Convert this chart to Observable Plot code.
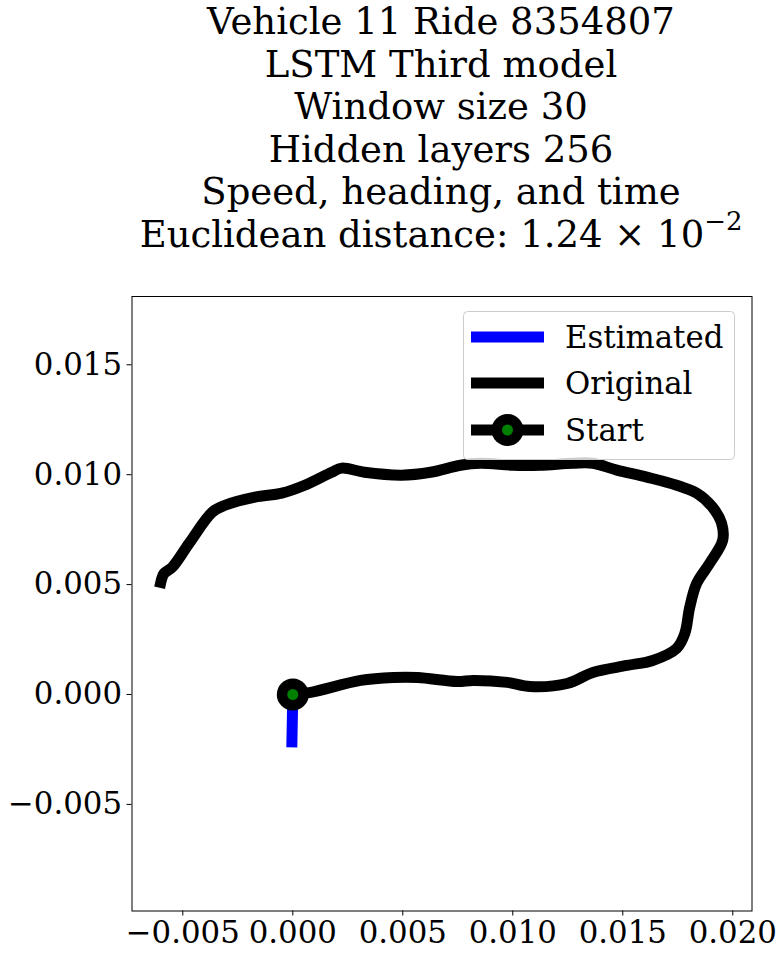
<!DOCTYPE html>
<html><head><meta charset="utf-8">
<script src="https://cdn.jsdelivr.net/npm/d3@7"></script>
<script src="https://cdn.jsdelivr.net/npm/@observablehq/plot@0.6"></script>
<style>
body{margin:0;background:#fff;font-family:"DejaVu Serif",serif;}
#wrap{position:relative;width:784px;height:958px;overflow:hidden;}
#title{position:absolute;left:441px;top:1px;transform:translateX(-50%);text-align:center;white-space:nowrap;font-size:37px;line-height:42.6px;color:#000;}
#title sup{font-size:70%;position:relative;top:-0.15em;line-height:0;}
#chart{position:absolute;left:0;top:270px;}
#legend{position:absolute;left:463px;top:311px;}
</style></head><body>
<div id="wrap"><div id="title"></div><div id="chart"></div><div id="legend"></div></div>
<script>
// ---- data ----
const titleLines = ["Vehicle 11 Ride 8354807", "LSTM Third model", "Window size 30", "Hidden layers 256", "Speed, heading, and time"];
const distLabel = "Euclidean distance: ";
const distMantissa = "1.24";
const distExponent = "−2";

const origX = [0, 0.00082, 0.00308, 0.00458, 0.00567, 0.00748, 0.00820, 0.00975, 0.01079, 0.01247,
  0.01364, 0.01519, 0.01636, 0.01745, 0.01782, 0.01804, 0.01836, 0.01895, 0.01954, 0.01949,
  0.01908, 0.01836, 0.01745, 0.01609, 0.01473, 0.01364, 0.01274, 0.01124, 0.01002, 0.00852,
  0.00762, 0.00626, 0.00494, 0.00326, 0.00222, 0.00177, 0.00054, -0.00050, -0.00172, -0.00308,
  -0.00367, -0.00471, -0.00548, -0.00585, -0.00600];
const origY = [0, 0.00010, 0.00064, 0.00077, 0.00077, 0.00059, 0.00064, 0.00055, 0.00036, 0.00050,
  0.00100, 0.00132, 0.00155, 0.00210, 0.00278, 0.00396, 0.00506, 0.00597, 0.00702, 0.00779,
  0.00852, 0.00916, 0.00952, 0.00989, 0.01021, 0.01052, 0.01052, 0.01043, 0.01043, 0.01052,
  0.01043, 0.01011, 0.00998, 0.01011, 0.01030, 0.01011, 0.00952, 0.00916, 0.00898, 0.00861,
  0.00829, 0.00688, 0.00579, 0.00551, 0.00510];
const estX = [0, -0.00004];
const estY = [0, -0.00216];
const startX = [0];
const startY = [0];

const xTicks = [-0.005, 0, 0.005, 0.010, 0.015, 0.020];
const yTicks = [-0.005, 0, 0.005, 0.010, 0.015];
const legendLabels = ["Estimated", "Original", "Start"];
const colors = {estimated: "blue", original: "black", start: "green"};

// ---- title ----
const t = document.getElementById("title");
t.innerHTML = titleLines.map(s => `<div>${s}</div>`).join("") +
  `<div>${distLabel}${distMantissa} × 10<sup>${distExponent}</sup></div>`;

// ---- chart ----
const fmt = d3.format(".3f");
const orig = origX.map((x, i) => ({x, y: origY[i]}));
const est = estX.map((x, i) => ({x, y: estY[i]}));
const start = startX.map((x, i) => ({x, y: startY[i]}));

const chart = Plot.plot({
  width: 784, height: 688,
  marginTop: 26, marginLeft: 131.5, marginRight: 32.5, marginBottom: 47.5,
  style: {fontFamily: "DejaVu Serif", background: "white", color: "black"},
  x: {domain: [-0.007309, 0.020873], axis: null},
  y: {domain: [-0.00985, 0.018107], axis: null},
  marks: [
    Plot.frame({stroke: "black", strokeWidth: 1}),
    Plot.axisX({ticks: xTicks, tickFormat: fmt, tickSize: 5, tickPadding: 5, fontSize: 30.8, label: null, stroke: "black"}),
    Plot.axisY({ticks: yTicks, tickFormat: fmt, tickSize: 5, tickPadding: 5, fontSize: 30.8, label: null, stroke: "black"}),
    Plot.line(est, {x: "x", y: "y", stroke: colors.estimated, strokeWidth: 11, strokeLinecap: "square", strokeLinejoin: "round"}),
    Plot.line(orig, {x: "x", y: "y", curve: "catmull-rom", stroke: colors.original, strokeWidth: 11, strokeLinecap: "square", strokeLinejoin: "round"}),
    Plot.dot(start, {x: "x", y: "y", r: 16, fill: "black", stroke: null}),
    Plot.dot(start, {x: "x", y: "y", r: 5.5, fill: colors.start, stroke: null})
  ]
});
document.getElementById("chart").appendChild(chart);

// ---- legend ----
const lw = 272, lh = 149;
const lg = d3.select("#legend").append("svg").attr("width", lw).attr("height", lh)
  .style("font-family", "DejaVu Serif");
lg.append("rect").attr("x", 0.5).attr("y", 0.5).attr("width", lw - 1).attr("height", lh - 1)
  .attr("rx", 4).attr("fill", "rgba(255,255,255,0.8)").attr("stroke", "#cccccc");
const rowY = [26, 72, 119];
const swatchColor = [colors.estimated, colors.original, colors.original];
legendLabels.forEach((lab, i) => {
  lg.append("line").attr("x1", 8).attr("x2", 81).attr("y1", rowY[i]).attr("y2", rowY[i])
    .attr("stroke", swatchColor[i]).attr("stroke-width", 11);
  if (i === 2) {
    lg.append("circle").attr("cx", 44.5).attr("cy", rowY[i]).attr("r", 16).attr("fill", "black");
    lg.append("circle").attr("cx", 44.5).attr("cy", rowY[i]).attr("r", 5.5).attr("fill", colors.start);
  }
  lg.append("text").attr("x", 102).attr("y", rowY[i]).attr("dy", "0.35em")
    .attr("font-size", 30.8).attr("fill", "black").text(lab);
});
</script>
</body></html>
